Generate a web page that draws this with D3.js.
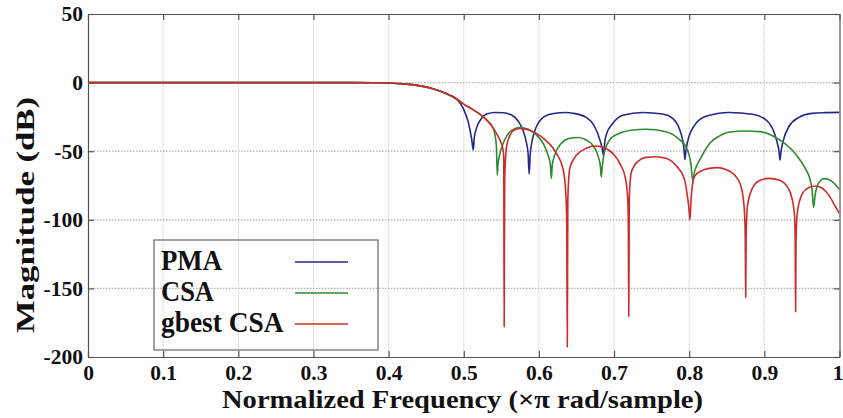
<!DOCTYPE html>
<html><head><meta charset="utf-8">
<script src="https://cdn.jsdelivr.net/npm/d3@7/dist/d3.min.js"></script>
<style>body{margin:0;background:#fff}svg{display:block}
text{font-family:"Liberation Serif","Times New Roman",Tinos,Times,serif;font-weight:bold}</style>
</head><body><svg id="c" width="843" height="418"></svg>
<script>
// ---------- data ----------
const xTicks = [0,0.1,0.2,0.3,0.4,0.5,0.6,0.7,0.8,0.9,1];
const xTickLabels = ["0","0.1","0.2","0.3","0.4","0.5","0.6","0.7","0.8","0.9","1"];
const yTicks = [-200,-150,-100,-50,0,50];
const yTickLabels = ["-200","-150","-100","-50","0","50"];
const seriesNames = ["PMA","CSA","gbest CSA"];
const seriesColors = ["#26268c","#2e8a2e","#cf2b2b"];

// common passband [freq (xπ rad/sample), magnitude dB]
const passband = [[0,0],[0.05,0],[0.1,0],[0.15,0],[0.2,0],[0.25,0],[0.3,0],[0.35,0],[0.38,-0.1],
  [0.40,-0.3],[0.42,-0.9],[0.44,-2.2],[0.46,-4.6],[0.47,-6.4],[0.48,-8.8],[0.49,-11.8]];

const pmaStop = [[0.4995,-19],[0.5061,-29],[0.5105,-41],[0.5127,-49.1],[0.5140,-40],[0.5171,-33],[0.5238,-26],
  [0.5304,-22.9],[0.5415,-21.8],[0.5525,-22],[0.5636,-23.6],[0.5724,-28],[0.5790,-35],[0.5835,-44],[0.5857,-52],
  [0.5870,-66.7],[0.5885,-52],[0.5901,-45],[0.5935,-37],[0.5967,-32],[0.6100,-24],[0.6277,-22],[0.6365,-21.8],
  [0.6454,-22.3],[0.6630,-25.3],[0.6741,-32],[0.6807,-41],[0.6842,-48],[0.6860,-52.8],[0.6875,-44],[0.6896,-38],
  [0.6984,-29.7],[0.7117,-23.8],[0.7382,-21.8],[0.7647,-22.9],[0.7780,-26],[0.7868,-33.5],[0.7913,-42],[0.7932,-49],
  [0.7943,-56],[0.7958,-49],[0.7979,-43],[0.8067,-31.5],[0.8222,-24.6],[0.8531,-21.8],[0.8841,-23.1],[0.9018,-27],
  [0.9128,-36],[0.9172,-44],[0.9195,-50],[0.9208,-56.4],[0.9222,-50],[0.9248,-43],[0.9327,-32],[0.9460,-25.3],
  [0.9637,-22.4],[0.9814,-21.9],[1.0,-21.7]];

const csaStop = [[0.4995,-15.5],[0.51,-19],[0.52,-22.5],[0.53,-27],[0.539,-33],[0.5415,-38],[0.5435,-47],[0.5446,-67.4],
  [0.5455,-60],[0.5481,-52],[0.5547,-41.5],[0.5636,-35],[0.5746,-32.8],[0.5857,-34],[0.5967,-38.2],[0.6056,-44.3],
  [0.6122,-53],[0.6153,-60],[0.6166,-69.8],[0.6178,-60],[0.621,-53],[0.6299,-44.3],[0.641,-40.6],[0.652,-40],
  [0.663,-41.8],[0.6741,-47.5],[0.6798,-55.5],[0.6818,-61],[0.6829,-68.6],[0.6845,-60],[0.6875,-50],[0.6984,-39.4],
  [0.725,-34.5],[0.7426,-34],[0.769,-35.8],[0.787,-41.5],[0.796,-47],[0.8,-53],[0.8025,-60],[0.8045,-71],
  [0.8075,-64],[0.8144,-56],[0.8277,-44],[0.84,-39],[0.854,-36],[0.875,-35.3],[0.894,-35.7],[0.908,-38],
  [0.921,-42],[0.935,-48],[0.947,-56],[0.955,-63],[0.961,-71],[0.9635,-78],[0.9655,-91],[0.9675,-82],
  [0.97,-76],[0.974,-72],[0.9795,-70],[0.985,-70.5],[0.992,-73],[1.0,-78]];

const gbestStop = [[0.4995,-15.5],[0.51,-19],[0.52,-22.5],[0.53,-27],[0.539,-33],[0.545,-38.5],[0.549,-43],[0.552,-48],
  [0.5532,-54],[0.5538,-178],[0.5545,-70],[0.5569,-47],[0.5614,-38.5],[0.5658,-35],[0.5746,-33.5],[0.5835,-34.2],
  [0.5967,-37],[0.61,-42.5],[0.6233,-51.5],[0.6321,-63],[0.6355,-78],[0.637,-100],[0.6378,-192.7],[0.6385,-85],
  [0.6409,-63],[0.645,-57],[0.6498,-53],[0.663,-47.9],[0.6741,-46.2],[0.6851,-47.2],[0.6984,-51.6],[0.7073,-58.5],
  [0.7152,-70],[0.7183,-85],[0.719,-105],[0.7196,-170.5],[0.7203,-85],[0.7227,-66],[0.7265,-61],[0.7316,-57.5],
  [0.7426,-54.5],[0.7559,-54],[0.7691,-55.2],[0.7824,-60.5],[0.7935,-70],[0.7979,-84],[0.7995,-91],[0.801,-100],
  [0.8025,-85],[0.8045,-74],[0.8075,-68],[0.8156,-64.5],[0.8266,-62.5],[0.8377,-62],[0.8487,-63.3],[0.8598,-67],
  [0.8686,-75],[0.873,-90],[0.8745,-110],[0.8752,-156.7],[0.8758,-110],[0.8775,-90],[0.8841,-77],[0.893,-71.5],
  [0.9062,-69.8],[0.9195,-71],[0.9306,-76],[0.9372,-85.5],[0.9403,-98],[0.941,-115],[0.9416,-167],[0.9422,-115],
  [0.9438,-95],[0.9505,-81],[0.9593,-76.5],[0.9681,-75.4],[0.977,-77],[0.9858,-82],[0.9947,-90.5],[1.0,-95.5]];

const seriesData = [passband.concat(pmaStop), passband.concat(csaStop), passband.concat(gbestStop)];

// ---------- drawing ----------
const W = 843, H = 418;
const m = {left: 88, right: 843 - 839.5, top: 14, bottom: 418 - 357};
const svg = d3.select("#c");
svg.append("rect").attr("width", W).attr("height", H).attr("fill", "#fff");

const x = d3.scaleLinear().domain([0, 1]).range([m.left, W - m.right]);
const y = d3.scaleLinear().domain([-200, 50]).range([H - m.bottom, m.top]);

// grid
const g = svg.append("g");
g.selectAll("line.vg").data(xTicks.slice(1, -1)).join("line")
  .attr("x1", d => x(d)).attr("x2", d => x(d)).attr("y1", y(50)).attr("y2", y(-200))
  .attr("stroke", "#c8c8c8").attr("stroke-width", 1).attr("stroke-dasharray", "1,1");
g.selectAll("line.hg").data(yTicks.slice(1, -1)).join("line")
  .attr("x1", x(0)).attr("x2", x(1)).attr("y1", d => y(d)).attr("y2", d => y(d))
  .attr("stroke", "#b0b0b0").attr("stroke-width", 1.2).attr("stroke-dasharray", "1.5,1.5");

// axes (inward ticks on all four sides)
const axB = d3.axisBottom(x).tickValues(xTicks).tickFormat((d, i) => xTickLabels[i]).tickSizeInner(-6).tickSizeOuter(0).tickPadding(8);
const axT = d3.axisTop(x).tickValues(xTicks).tickFormat("").tickSizeInner(-6).tickSizeOuter(0);
const axL = d3.axisLeft(y).tickValues(yTicks).tickFormat((d, i) => yTickLabels[i]).tickSizeInner(-6).tickSizeOuter(0).tickPadding(5);
const axR = d3.axisRight(y).tickValues(yTicks).tickFormat("").tickSizeInner(-6).tickSizeOuter(0);

function styleAxis(sel) {
  sel.attr("font-family", null).attr("font-size", null);
  sel.select(".domain").attr("stroke", "#555").attr("stroke-width", 1.2);
  sel.selectAll(".tick line").attr("stroke", "#555").attr("stroke-width", 1.2);
  sel.selectAll(".tick text").style("font-size", "21.5px").attr("fill", "#111");
}
const gB = svg.append("g").attr("transform", `translate(0,${y(-200)})`).call(axB).call(styleAxis);
svg.append("g").attr("transform", `translate(0,${y(50)})`).call(axT).call(styleAxis);
svg.append("g").attr("transform", `translate(${x(0)},0)`).call(axL).call(styleAxis);
svg.append("g").attr("transform", `translate(${x(1)},0)`).call(axR).call(styleAxis);
// keep the last x label inside the canvas
gB.selectAll(".tick text").filter((d, i) => i === xTicks.length - 1).attr("dx", "-2");

// clip
svg.append("clipPath").attr("id", "clip").append("rect")
  .attr("x", x(0)).attr("y", y(50)).attr("width", x(1) - x(0)).attr("height", y(-200) - y(50));

const line = d3.line().x(d => x(d[0])).y(d => y(d[1])).curve(d3.curveMonotoneX);
const lines = svg.append("g").attr("clip-path", "url(#clip)");
seriesData.forEach((s, i) => {
  lines.append("path").attr("d", line(s)).attr("fill", "none")
    .attr("stroke", seriesColors[i]).attr("stroke-width", 1.6).attr("stroke-linejoin", "round");
});

// legend (transparent background)
const lg = svg.append("g");
lg.append("rect").attr("x", 154).attr("y", 240).attr("width", 224).attr("height", 110)
  .attr("fill", "none").attr("stroke", "#666").attr("stroke-width", 1.2);
const legW = [61, 53, 122.6];
seriesNames.forEach((n, i) => {
  const yy = 262 + i * 31;
  lg.append("text").attr("x", 161).attr("y", yy + 8).text(n)
    .style("font-size", "29px")
    .attr("textLength", legW[i]).attr("lengthAdjust", "spacingAndGlyphs").attr("fill", "#111");
  lg.append("line").attr("x1", 295).attr("x2", 348).attr("y1", yy).attr("y2", yy)
    .attr("stroke", seriesColors[i]).attr("stroke-width", 1.6);
});

// axis titles
svg.append("text").attr("x", 462.5).attr("y", 408).attr("text-anchor", "middle")
  .style("font-size", "24.5px")
  .attr("textLength", 481).attr("lengthAdjust", "spacingAndGlyphs").attr("fill", "#111")
  .text("Normalized Frequency  (×π rad/sample)");
svg.append("text").attr("transform", "translate(34,215) rotate(-90)").attr("text-anchor", "middle")
  .style("font-size", "25px")
  .attr("textLength", 236).attr("lengthAdjust", "spacingAndGlyphs").attr("fill", "#111")
  .text("Magnitude (dB)");
</script>
</body></html>
